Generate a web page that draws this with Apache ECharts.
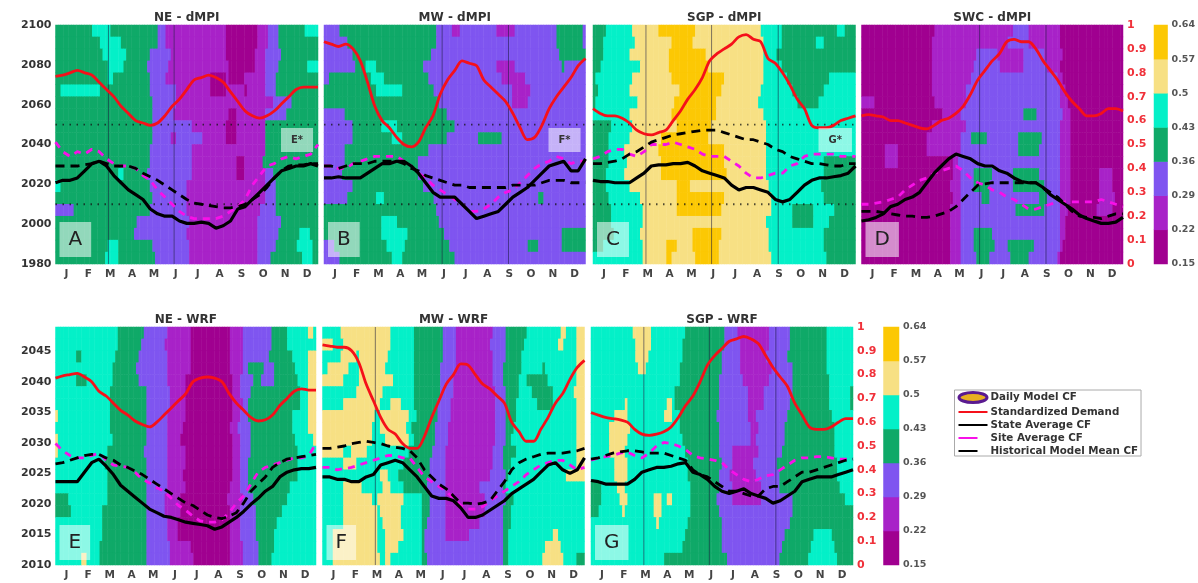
<!DOCTYPE html>
<html>
<head>
<meta charset="utf-8">
<script src="https://cdn.jsdelivr.net/npm/echarts@6/dist/echarts.min.js"></script>
<style>
html,body{margin:0;padding:0;background:#fff}
#chart{width:1198px;height:583px;filter:blur(0.6px)}
</style>
</head>
<body>
<div id="chart"></div>
<script>
const months = ['J','F','M','A','M','J','J','A','S','O','N','D'];
const levelColors = ['#a00090','#a822c8','#7f55f0','#0fa968','#04f0c8','#f7e084','#fcc804'];
const levelTicks = ['0.15','0.22','0.29','0.36','0.43','0.5','0.57','0.64'];
const guideYears = [2010, 2050];

/* Filled contour bands, top row to bottom row: "level-endPercent" across the year */
const cellsA = [
'3-14 4-21 3-39 2-42 1-65 0-77 1-81 2-85 3-95 4-100',
'3-17 4-25 3-39 2-42 1-65 0-77 1-81 2-85 3-100',
'3-18 4-27 3-36 2-44 1-65 0-76 1-80 2-86 3-100',
'3-20 4-26 3-35 2-43 1-66 0-76 1-80 2-85 3-96 4-100',
'3-20 4-22 3-36 2-42 1-59 0-65 1-66 0-72 1-80 2-84 3-100',
'3-2 4-17 3-36 2-46 1-59 0-65 1-72 0-73 1-80 2-84 3-100',
'3-37 2-46 1-83 2-90 3-100',
'3-37 2-45 1-66 0-69 1-80 2-88 3-100',
'3-37 2-52 1-65 0-69 1-80 3-100',
'3-37 2-44 1-46 2-56 1-65 0-69 1-80 3-100',
'3-36 2-52 1-80 3-100',
'3-36 2-52 1-69 0-72 1-79 3-100',
'3-24 4-26 3-35 2-52 1-69 0-72 1-80 2-83 3-100',
'4-2 3-36 2-50 1-80 2-84 3-100',
'3-37 2-50 1-80 2-84 3-100',
'2-7 3-36 2-50 1-78 2-84 3-100',
'3-31 2-51 1-77 2-86 3-100',
'3-30 2-50 1-77 2-85 3-93 4-97 3-100',
'3-20 4-24 3-37 2-51 1-77 2-84 3-92 4-98 3-100',
'3-19 4-24 3-38 2-51 1-77 2-82 3-94 4-98 3-100'];
const cellsB = [
'2-6 3-43 2-49 1-52 2-66 1-73 2-89 3-99 2-100',
'2-9 3-43 2-89 3-99 2-100',
'2-11 3-41 2-90 3-100',
'2-12 3-16 4-20 3-38 2-66 1-73 2-91 3-92 2-100',
'2-2 3-18 4-23 3-40 2-68 1-77 2-100',
'3-20 4-30 3-42 2-72 1-79 2-100',
'3-44 2-72 1-78 2-100',
'2-8 3-47 2-100',
'2-11 3-22 4-28 3-50 2-100',
'2-11 3-26 4-30 3-47 2-59 3-68 2-100',
'2-8 3-40 2-100',
'2-8 3-36 2-100',
'2-7 3-36 2-100',
'2-11 3-38 2-100',
'2-9 3-20 4-23 3-42 2-82 3-84 2-100',
'3-43 2-100',
'3-22 4-28 3-44 2-100',
'3-22 4-32 3-46 2-91 3-100',
'2-4 3-24 4-31 3-48 2-78 3-82 2-91 3-100',
'2-6 3-26 4-30 3-50 2-100'];
const cellsC = [
'3-5 4-15 5-25 6-39 5-64 4-72 3-93 4-96 3-100',
'3-4 4-16 5-30 6-38 5-65 4-72 3-85 4-88 3-100',
'3-4 4-14 5-29 6-43 5-65 4-70 3-100',
'3-3 4-18 5-29 6-44 5-65 4-72 3-100',
'3-1 4-15 5-30 6-50 5-65 4-74 3-90 4-100',
'3-2 4-14 5-33 6-49 5-64 4-76 3-88 4-100',
'3-1 4-17 5-31 6-47 5-63 4-78 3-86 4-100',
'4-14 5-30 6-47 5-65 4-100',
'3-7 4-15 5-32 6-45 5-66 4-100',
'3-6 4-14 5-26 6-44 5-66 4-100',
'3-6 4-12 5-25 6-50 5-66 4-100',
'3-6 4-13 5-26 6-50 5-66 4-88 3-100',
'3-5 4-12 5-26 6-51 5-66 4-88 3-100',
'3-5 4-14 5-32 6-37 5-67 4-87 3-100',
'3-6 4-18 5-32 6-50 5-68 4-88 3-100',
'3-7 4-19 5-32 6-49 5-68 4-76 3-84 4-92 3-100',
'3-7 4-19 5-66 4-76 3-84 4-90 3-100',
'3-8 4-18 5-38 6-49 5-67 4-88 3-100',
'3-4 4-19 5-28 6-32 5-38 6-48 5-67 4-88 3-100',
'4-19 5-28 6-30 5-39 6-48 5-68 4-89 3-100'];
const cellsD = [
'0-28 1-58 2-64 1-76 0-100',
'0-27 1-56 2-64 1-76 0-100',
'0-27 1-44 2-52 1-62 2-70 1-77 0-100',
'0-27 1-43 2-53 1-62 2-71 1-76 0-100',
'0-27 1-42 2-75 1-77 0-100',
'0-27 1-40 2-76 1-78 0-100',
'1-5 0-28 1-40 2-76 1-79 0-100',
'0-31 1-38 2-62 3-67 2-77 1-80 0-100',
'0-27 1-40 2-76 1-80 0-100',
'0-25 1-38 2-42 3-48 2-60 3-69 2-76 1-80 0-100',
'0-9 1-14 0-25 1-38 2-60 3-68 2-76 1-80 0-100',
'0-9 1-14 0-35 1-37 2-76 1-80 0-100',
'0-35 1-38 2-43 3-50 2-58 3-68 2-76 1-80 0-91 1-96 0-100',
'0-34 1-38 2-43 3-49 2-58 3-70 2-76 1-80 0-91 1-96 0-100',
'0-35 1-38 2-46 3-49 2-68 3-71 2-76 1-80 0-91 1-97 0-100',
'0-34 1-38 2-59 3-70 2-76 1-79 0-90 1-96 0-100',
'0-34 1-38 2-76 1-78 0-100',
'0-34 1-38 2-43 3-50 2-76 1-78 0-100',
'0-34 1-38 2-43 3-51 2-56 3-66 2-76 1-77 0-100',
'0-34 1-38 2-44 3-49 2-57 3-64 2-75 1-76 0-100'];
const cellsE = [
'4-24 3-34 2-43 1-52 0-67 1-72 2-83 3-89 4-97 5-99 4-100',
'4-24 3-33 2-42 1-52 0-67 1-72 2-83 3-89 4-100',
'4-8 3-10 4-23 3-32 2-43 1-52 0-67 1-72 2-82 3-91 4-97 5-100',
'4-22 3-31 2-43 1-52 0-67 1-72 2-74 3-80 2-84 3-92 4-97 5-100',
'4-8 3-12 4-22 3-32 2-43 1-50 0-68 1-71 2-76 3-79 2-84 3-93 4-97 5-100',
'4-21 3-35 2-44 1-50 0-68 1-71 2-75 3-94 4-97 5-100',
'4-21 3-35 2-44 1-50 0-68 1-72 2-74 3-94 4-97 5-100',
'5-1 4-21 3-35 2-43 1-50 0-68 1-71 2-74 3-91 4-97 5-100',
'4-21 3-35 2-43 1-49 0-67 1-70 2-75 3-91 4-97 5-100',
'5-1 4-22 3-35 2-43 1-48 0-68 1-71 2-75 3-92 4-99 5-100',
'5-1 4-20 3-34 2-43 1-50 0-68 1-71 2-75 3-93 4-100',
'4-19 3-35 2-43 1-50 0-68 1-71 2-74 3-93 4-100',
'4-20 3-35 2-43 1-49 0-68 1-71 2-74 3-93 4-100',
'4-20 3-35 2-43 1-50 0-67 1-71 2-74 3-90 4-100',
'3-5 4-20 3-35 2-42 1-48 0-66 1-72 2-76 3-89 4-100',
'3-6 4-18 3-35 2-42 1-48 0-67 1-71 2-77 3-87 4-100',
'4-18 3-35 2-43 1-47 0-67 1-71 2-77 3-85 4-100',
'4-18 3-35 2-43 1-47 0-67 1-71 2-77 3-84 4-100',
'4-17 3-35 2-44 1-52 0-67 1-72 2-78 3-84 4-100',
'4-10 5-12 4-17 3-35 2-44 1-53 0-67 1-72 2-78 3-83 4-100'];
const cellsF = [
'4-7 5-26 4-35 3-46 2-51 1-65 2-70 3-78 4-91 5-93 4-97 5-100',
'5-4 4-8 5-26 4-35 3-46 2-51 1-64 2-70 3-77 4-90 5-92 4-97 5-100',
'4-7 5-13 4-14 5-25 4-35 3-46 2-51 1-65 2-70 3-76 4-97 5-100',
'4-2 5-10 4-14 5-24 4-35 3-45 2-51 1-65 2-69 3-76 4-84 3-85 4-97 5-100',
'5-8 4-14 5-27 4-35 3-45 2-50 1-65 2-69 3-75 4-78 3-86 4-97 5-100',
'4-13 5-23 4-35 3-45 2-50 1-66 2-70 3-75 4-80 3-88 4-96 5-100',
'4-8 5-22 4-26 5-30 4-35 3-44 2-49 1-66 2-70 3-74 4-82 3-88 4-97 5-100',
'5-20 4-22 5-33 4-36 3-44 2-49 1-66 2-70 3-74 4-97 5-100',
'5-19 4-22 5-32 4-34 3-43 2-48 1-66 2-70 3-73 4-97 5-100',
'5-19 4-24 5-33 4-35 3-43 2-48 1-66 2-70 3-72 4-97 5-100',
'5-8 4-11 5-17 4-33 3-42 2-47 1-65 2-69 3-74 4-97 5-100',
'4-8 5-13 4-31 3-41 2-47 1-65 2-69 3-72 4-97 5-100',
'4-22 5-25 4-29 3-41 2-47 1-64 2-70 3-71 4-93 5-100',
'4-8 5-15 4-23 5-26 4-31 3-40 2-47 1-60 2-69 3-70 4-100',
'4-8 5-19 4-21 5-31 4-38 3-41 2-47 1-62 2-70 3-73 4-100',
'4-8 5-21 4-22 5-30 4-38 3-41 2-47 1-62 2-69 3-72 4-100',
'4-8 5-21 4-23 5-30 4-38 3-40 2-47 1-60 2-69 3-72 4-100',
'4-4 5-21 4-24 5-31 4-38 3-39 2-47 1-56 2-69 3-71 4-88 5-90 4-100',
'4-4 5-21 4-24 5-29 4-38 3-39 2-69 3-71 4-85 5-91 4-100',
'4-4 5-22 4-24 5-26 4-38 3-40 2-69 3-71 4-84 5-92 4-97 3-100'];
const cellsG = [
'4-16 5-23 4-36 3-51 2-56 1-68 2-76 3-90 4-100',
'4-17 5-23 4-35 3-51 2-57 1-68 2-76 3-90 4-100',
'4-17 5-22 4-35 3-50 2-57 1-67 2-75 3-90 4-100',
'4-18 5-21 4-34 3-50 2-57 1-69 2-77 3-90 4-100',
'4-34 3-49 2-58 1-68 2-77 3-91 4-100',
'4-32 3-49 2-60 1-66 2-77 3-91 4-99 3-100',
'4-13 5-14 4-29 5-31 4-32 3-49 2-60 1-66 2-76 3-91 4-99 3-100',
'4-9 5-14 4-28 5-31 4-34 3-48 2-60 1-63 2-75 3-92 4-100',
'4-7 5-15 4-34 3-49 2-61 1-64 2-74 3-93 4-100',
'4-7 5-14 4-35 3-49 2-61 1-63 2-74 3-93 4-100',
'4-7 5-13 4-36 3-49 2-54 1-64 2-73 3-93 4-100',
'4-9 5-14 4-37 3-50 2-54 1-62 2-71 3-94 4-100',
'4-9 5-14 4-37 3-49 2-53 1-63 2-72 3-94 4-100',
'3-4 4-10 5-13 4-38 3-49 2-54 1-65 2-72 3-95 4-100',
'3-4 4-11 5-14 4-24 5-27 4-29 5-31 4-38 3-48 2-54 1-65 2-77 3-97 4-100',
'3-3 4-12 5-13 4-24 5-27 4-38 3-49 2-77 3-100',
'4-25 5-26 4-37 3-50 2-76 3-100',
'4-36 3-50 2-74 3-85 4-92 3-100',
'4-35 3-50 2-73 3-84 4-93 3-100',
'4-28 3-52 2-72 3-83 4-94 3-100'];

/* Lines: 37 readings across the year, in hundredths of the red right-hand scale */
const demandA = [78.5,79,80,81,80,79,76,73,70,66,63,60,59,58,59,62,66,69,73,77,78,79,78,76,72,68,64,62,61,62,64,67,70,73,74,74,74];
const stateA  = [34,35,35,36,39,42,43,41,37,34,31,29,27,23,21,20,20,18,17,17,17.5,17,15,16,18,23,24,27,30,33,36,39,40,41,41,42,41];
const histA   = [41,41,41,41,41.5,42,43,42,41,41,41,40,38,36.5,35,33,31,29,27,25.5,25,24.5,24,23.5,23.5,24,25,27,29,32,36,39,41,41.5,41.5,42,42];
const siteA   = [51,47,45,47,46,48,47,44,42,41,41,40,37,35,31,28,25,22,20,19,19,19,19,20,22,24,27,33,37,41,42,44,45,44,45,46,50];
const demandB = [93,92,91,92,90,85,76,66,60,57,53,50,49,51,57,62,71,77,81,85,84,83,77,74,71,68,63,57,52,53,58,65,70,74,78,83,86];
const stateB  = [36,36,36.5,36,36,36,38,40,42,42,43,43,41,38,34,30,28,28,28,25,22,19,20,21,22,25,28,30,32,35,38,41,42,43,39,39,44];
const histB   = [41,41,40,41,42,42,42,43,43,43,43,42,40,39,37,36,35,34,33,33,32,32,32,32,32,32,33,33,33,33,34,35,35,35,34,34,34];
const siteB   = [41,41,40,40,42,43,44,45,45,45,45,43,41,38,36,33,31,29,27,25,22,22,23,25,28,30,31,34,37,40,42,43,45,44,42,43,43];
const demandC = [65,63,62,62,61,59,56,54.5,54,55,56,60,64,69,73,78,85,88,90,92,95,96,94,93,86,84,80,75,69,65,58,57,57,58,60,61,62];
const stateC  = [35,34.5,34.5,34,34,34,36,38,41,41.5,41.5,42,42,42.5,41,39,38,37,36,33,31,32,32,31,30,27,26,27,30,33,35,36,36,36.5,37,38,41];
const histC   = [42,42,42.5,43,44,46,47,49,51,52,53,54,54.5,55,55.5,56,56,56,55,54,53,52,52,51,50,48,47,45,44,43,42,42,41.5,41,41,42,42];
const siteC   = [44,45,47,48,48,46,45,47,50,50,50,51,50,49,48,46,45,45,45,43,41,38,36,36,37,38,38,41,42,45,46,46,46,46,45,45,45];
const demandD = [62,62.5,62,61.5,60,60,59,58,57,56.5,58,60,61,63,66,71,77,81,85,88,93,94,93,93,90,85,81,77,72,68,65,62,62,63,65,65,64];
const stateD  = [18,18.5,19.5,21,24,25,27,28,30,34,38,41,44,46,45,44,42,41,41,39,38,36,34.5,34,34,32,29,27,25,23,20.5,19,18,17,17,17.5,19.5];
const histD   = [22,22,22,21.5,21,20.5,20,20,19.5,19.5,20,21,22,24,27,30,33,33.5,34,34,34,34,34,34,34,32,30,28,25,22,20,19.5,19.5,19,20,21,21];
const siteD   = [25,25,25.5,26,27,28,31,33,35,36,38,39,40,41,39,36,34,33,31,30,28,27,25,23,23,24,25,26,26,26,26,26,26,27,26,25,24];
const demandE = [78.5,79.5,80,80.5,79,77,73,71,68,65,63,60.5,59,58,60,63,66,69,72,77,78.5,79,78.5,77,72,68,65,62,60.5,61,63,67,70,73,74,73.5,73.5];
const stateE  = [35,35,35,35,39,43,44.5,41.5,38,33.5,31,28.5,26,23.5,22,20.5,20,19,18,17.5,17,16.5,15,16,18,20,22.5,25.5,28,31,33,37,39,40,40.5,40.5,41];
const histE   = [42.5,43,44,45,46,46.5,46.5,45,44,42,41,39.5,38,36,34,32,30,28,26,25,23,21,20,19.5,20.5,22,26,31,34,37,41,43,44.5,45,45.5,46,46.5];
const siteE   = [51,48,46,45,45,46,47,44,42,41.5,41,39,36,34.5,32.5,31,28,25,23,20.5,18.5,18,18,19,22,26,29,34,39,41,42,43,44,45,45,46,51];
const demandF = [92.5,92,91.5,91.5,90,85,76,69,62,57,55,51,49,49,54,62,69,76,80,84.5,84,80,76,74,71,68,60,56,52,52,57,62,68,72,78,83,86];
const stateF  = [37,37,36,36,35,35,37,38,42,43,44,43,40,37,33,29,28,28,27,24,20,20,21,23,25,27,30,32,34,36,39,42,43,40,38.5,40,45];
const histF   = [49,49,49.5,50,51,51.5,52,51.5,51,50,49.5,49,48,45,40,37,34,32,29,26,26,25.5,26,27,31,35,40,43,44.5,45.5,46.5,47,47,47,47.5,48,49];
const siteF   = [41,41,40,40.5,41,42,43,44,45,46,46,45,45,41,37,35,33,31,28,25,23.5,23.5,24.5,27,29,31,33,35,38,40,42,43,44,44,42,40,41];
const demandG = [64,63,62,61.5,61,60,57,55,54.5,55,56,58,62,67,71,77,84,88,91,94,95,96,95,93,88,83,79,75,68,63,58,57,57,58,60,61.5,61.5];
const stateG  = [35.5,35,34,34,34,34,36,39,40,41,41,41.5,42.5,43,39,38,36,33,31,30,31,32,30,29,28,26,27,29,31,35,36,37,37,37,38,39,40];
const histG   = [44.5,45,46,47,47.5,48,48,47.5,47,47,47,46,45,44,40,38,37,35,33,31,31,30,29,29,32,33,33,35,37,39,39,40,41,42,43,44,44.5];
const siteG   = [44,45,45.5,46,47,47.5,46,45,47,50,51.5,51,50,48.5,46,45,44.5,44,43,40,38,36,35,36,37.5,38,40,42,44,45,45,45.5,45.5,45,44.5,44.5,44.5];

const N_COLS = 100;
const colNames = Array.from({length:N_COLS},(_,i)=>String(i));
const rowNames = Array.from({length:20},(_,i)=>String(i));

const panels = [
 {t:'NE - dMPI', tag:'A', star:'E*', box:[55.5,25,262.5,239], tr:0, cells:cellsA, d:demandA,s:stateA,h:histA,p:siteA, v:[7.26,16.26], left:true, guides:true},
 {t:'MW - dMPI', tag:'B', star:'F*', box:[324,25,261.5,239], tr:0, cells:cellsB, d:demandB,s:stateB,h:histB,p:siteB, v:[16.26,25.4], guides:true},
 {t:'SGP - dMPI',tag:'C', star:'G*', box:[593,25,262.5,239], tr:0, cells:cellsC, d:demandC,s:stateC,h:histC,p:siteC, v:[7.26,16.26,25.4], guides:true},
 {t:'SWC - dMPI',tag:'D', box:[861.5,25,261.5,239], tr:0, cells:cellsD, d:demandD,s:stateD,h:histD,p:siteD, v:[16.26,25.4], right:true},
 {t:'NE - WRF',  tag:'E', box:[55.5,327,260.5,238], tr:1, cells:cellsE, d:demandE,s:stateE,h:histE,p:siteE, v:[], left:true},
 {t:'MW - WRF',  tag:'F', box:[322.5,327,262,238], tr:1, cells:cellsF, d:demandF,s:stateF,h:histF,p:siteF, v:[7.26]},
 {t:'SGP - WRF', tag:'G', box:[591,327,262,238], tr:1, cells:cellsG, d:demandG,s:stateG,h:histG,p:siteG, v:[7.26,16.26,25.4], right:true}
];

const FONT = 'DejaVu Sans';
const grid=[], xAxis=[], yAxis=[], series=[], title=[];
const heatIdx=[];
const lab = (color,size)=>({fontFamily:FONT,fontWeight:'bold',color,fontSize:size});

function parseCells(rows){
  const out=[];
  rows.forEach((row,r)=>{
    let c=0;
    row.split(' ').forEach(tok=>{
      const [lv,end]=tok.split('-').map(Number);
      for(;c<end&&c<N_COLS;c++) out.push([c,rows.length-1-r,lv]);
    });
  });
  return out;
}

panels.forEach((pn,i)=>{
  const [l,t,w,h]=pn.box;
  grid.push({left:l,top:t,width:w,height:h,containLabel:false,show:false});
  const xb=xAxis.length, yb=yAxis.length;
  xAxis.push({gridIndex:i,type:'category',data:colNames,show:false});
  xAxis.push({gridIndex:i,type:'value',min:0,max:36,show:false});
  xAxis.push({gridIndex:i,type:'category',data:months,position:'bottom',
    axisLine:{show:false},axisTick:{show:false},splitLine:{show:false},
    axisLabel:{...lab('#444',10.5),interval:0,margin:5}});
  yAxis.push({gridIndex:i,type:'category',data:rowNames,show:false});
  const years = pn.tr===0 ? {min:1980,max:2100,interval:20} : {min:2010,max:2049,interval:5};
  yAxis.push({gridIndex:i,type:'value',...years,position:'left',show:!!pn.left,
    axisLine:{show:false},axisTick:{show:false},splitLine:{show:false},
    axisLabel:{...lab('#333',11),margin:4,showMaxLabel:pn.tr===0,formatter:v=>String(v)}});
  yAxis.push({gridIndex:i,type:'value',min:0,max:1,interval:0.1,position:'right',show:!!pn.right,
    axisLine:{show:false},axisTick:{show:false},splitLine:{show:false},
    axisLabel:{...lab('#f0313a',11),margin:4,formatter:v=>String(+v.toFixed(1))}});

  heatIdx.push(series.length);
  series.push({name:'Daily Model CF',type:'heatmap',xAxisIndex:xb,yAxisIndex:yb,data:parseCells(pn.cells),
    progressive:0,animation:false,z:1,emphasis:{disabled:true}});

  pn.v.forEach(x=>series.push({type:'line',xAxisIndex:xb+1,yAxisIndex:yb+2,showSymbol:false,silent:true,z:2,
    data:[[x,0],[x,1]],lineStyle:{color:'rgba(25,25,60,0.55)',width:1}}));
  if(pn.guides) guideYears.forEach(y=>series.push({type:'line',xAxisIndex:xb+1,yAxisIndex:yb+1,showSymbol:false,silent:true,z:2,
    data:[[0,y],[36,y]],lineStyle:{color:'rgba(20,20,20,0.75)',width:1.8,type:[1.5,5.5]}}));

  const mk=(name,arr,style,z,smooth)=>series.push({name,type:'line',xAxisIndex:xb+1,yAxisIndex:yb+2,
    showSymbol:false,symbol:'none',silent:true,z,smooth:smooth||false,
    itemStyle:{color:style.color},
    data:arr.map((v,k)=>[k,v/100]),lineStyle:style});
  mk('Site Average CF',pn.p,{color:'#f810e8',width:2.8,type:[7,6]},4);
  mk('Historical Model Mean CF',pn.h,{color:'#000',width:2.8,type:[9,6]},5);
  mk('State Average CF',pn.s,{color:'#000',width:3.2},6);
  mk('Standardized Demand',pn.d,{color:'#f5101a',width:2.8},7,0.3);

  title.push({text:pn.t,left:l+w/2,top:t-14,textAlign:'center',
    textStyle:{...lab('#333',12),lineHeight:13},padding:0});
  const tagT = t + (pn.tr===0?197:198);
  title.push({text:pn.tag,left:l+4,top:tagT,padding:[6,9],backgroundColor:'rgba(255,255,255,0.55)',z:8,
    textStyle:{fontFamily:FONT,fontWeight:'normal',color:'#222',fontSize:20,lineHeight:23}});
  if(pn.star) title.push({text:pn.star,left:l+w-37,top:t+103,padding:[7,10],backgroundColor:'rgba(255,255,255,0.55)',z:8,
    textStyle:{...lab('#333',10),lineHeight:10}});
});

/* colour bars */
[[1154,25,14.5,239],[883.5,327,15.5,238]].forEach((b,k)=>{
  const gi=grid.length, xb=xAxis.length, yb=yAxis.length;
  grid.push({left:b[0],top:b[1],width:b[2],height:b[3],show:false});
  xAxis.push({gridIndex:gi,type:'category',data:['cf'],show:false});
  yAxis.push({gridIndex:gi,type:'category',data:levelColors.map((_,j)=>String(j)),show:false});
  yAxis.push({gridIndex:gi,type:'category',data:levelTicks,boundaryGap:false,position:'right',
    axisLine:{show:false},axisTick:{show:false},splitLine:{show:false},
    axisLabel:{...lab('#555',9.5),margin:4,interval:0}});
  heatIdx.push(series.length);
  series.push({name:'Daily Model CF',type:'heatmap',xAxisIndex:xb,yAxisIndex:yb,progressive:0,animation:false,
    data:levelColors.map((_,j)=>[0,j,j]),emphasis:{disabled:true}});
});

const hide = {opacity:0};
const option = {
  animation:false,
  backgroundColor:'#fff',
  textStyle:{fontFamily:FONT},
  title, grid, xAxis, yAxis, series,
  visualMap:{type:'piecewise',show:false,seriesIndex:heatIdx,dimension:2,
    pieces:levelColors.map((color,k)=>({min:k-0.5,max:k+0.5,color}))},
  legend:{
    orient:'vertical',left:954.5,top:390,padding:[1,3,0,3],itemGap:3,itemWidth:29,itemHeight:10,
    borderColor:'#aaa',borderWidth:1,backgroundColor:'#fff',selectedMode:false,
    textStyle:{...lab('#333',10.3),padding:[0,0,0,-2]},
    data:[
      {name:'Daily Model CF',icon:'path://M0 5a14 5 0 1 0 28 0a14 5 0 1 0 -28 0z',itemStyle:{color:'#e8b020',borderColor:'#5a1a90',borderWidth:3}},
      {name:'Standardized Demand',itemStyle:hide},
      {name:'State Average CF',itemStyle:hide},
      {name:'Site Average CF',itemStyle:hide,lineStyle:{type:[19,40]}},
      {name:'Historical Model Mean CF',itemStyle:hide,lineStyle:{type:[19,40]}}
    ]
  }
};
echarts.init(document.getElementById('chart'),null,{renderer:'canvas'}).setOption(option);
</script>
</body>
</html>
